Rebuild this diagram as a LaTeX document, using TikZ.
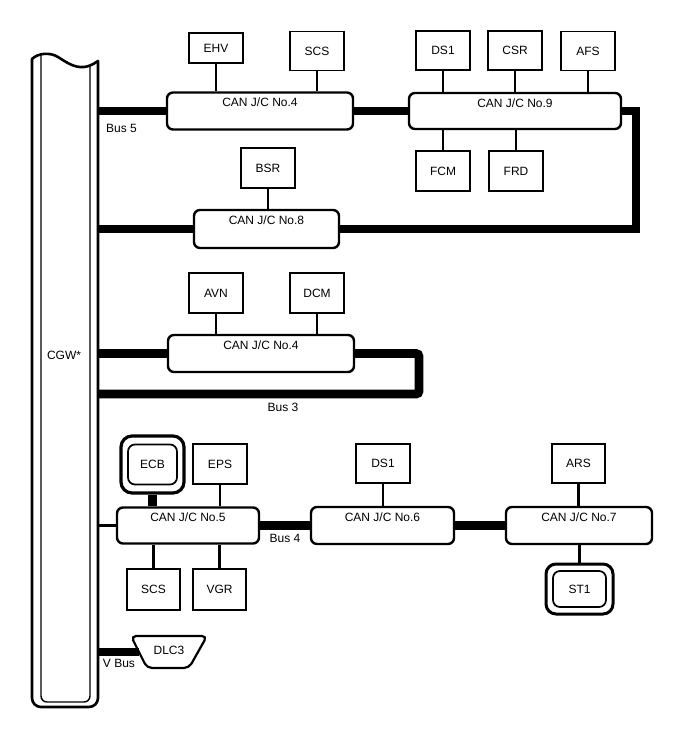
\documentclass[tikz,border=0pt]{standalone}
\usepackage{fontspec}
\setmainfont{Liberation Sans}
\begin{document}
\begin{tikzpicture}[x=1pt,y=-1pt,
  every node/.style={font=\fontsize{12}{14}\selectfont, inner sep=0pt},
  ecu/.style={draw, line width=1.9pt, fill=white},
  cjbox/.style={draw, line width=2.4pt, rounded corners=6pt, fill=white},
  cjlab/.style={anchor=north, yshift=-6.5pt},
  link/.style={line width=2.2pt},
  bus/.style={line width=8.8pt},
  ecuouter/.style={draw, line width=3.2pt, rounded corners=11pt},
  ecuinner/.style={draw, line width=1.7pt, rounded corners=7pt},
  buslab/.style={}
  ]
\useasboundingbox (0,0) rectangle (688,755);

% ---------- CGW ----------
\draw[line width=2.6pt, line cap=round] (32,59) .. controls (38,53) and (50,52) .. (58,57)
      .. controls (66,62) and (74,68) .. (84,67) .. controls (92,66) and (96,62) .. (98,61);
\draw[line width=2.6pt, rounded corners=9pt, line cap=round] (98,61) -- (98,707) -- (32,707) -- (32,59);
\begin{scope}
  \clip (32,59) .. controls (38,53) and (50,52) .. (58,57)
      .. controls (66,62) and (74,68) .. (84,67) .. controls (92,66) and (96,62) .. (98,61)
      -- (98,720) -- (32,720) -- cycle;
  \draw[line width=1.4pt, rounded corners=6pt] (41,40) -- (41,702) -- (90,702) -- (90,40);
\end{scope}
\node (cgw) at (64,355) {CGW*};
\coordinate (cgwR) at (98,0);

% ---------- Bus 5 ----------
\node[ecu, minimum width=54pt, minimum height=30pt] (ehv) at (216,48) {EHV};
\node[ecu, minimum width=54pt, minimum height=39pt] (scsa) at (317,51) {SCS};
\node[cjbox, minimum width=186pt, minimum height=37pt, label={[cjlab]north:CAN J/C No.4}] (cja) at (260,111) {};
\node[ecu, minimum width=54pt, minimum height=39pt] (ds1a) at (443,50.5) {DS1};
\node[ecu, minimum width=54pt, minimum height=39pt] (csr) at (515,50.5) {CSR};
\node[ecu, minimum width=54pt, minimum height=39pt] (afs) at (588,51) {AFS};
\node[cjbox, minimum width=212pt, minimum height=36pt, label={[cjlab]north:CAN J/C No.9}] (cjn) at (515,111) {};
\node[ecu, minimum width=54pt, minimum height=40pt] (fcm) at (443,171) {FCM};
\node[ecu, minimum width=54pt, minimum height=40pt] (frd) at (516,171) {FRD};
\node[ecu, minimum width=54pt, minimum height=40pt] (bsr) at (268,168) {BSR};
\node[cjbox, minimum width=145pt, minimum height=38pt, label={[cjlab]north:CAN J/C No.8}] (cje) at (266.5,229) {};
\coordinate (t9) at (636,0);

\draw[link] (ehv.south) -- (ehv.south |- cja.north);
\draw[link] (scsa.south) -- (scsa.south |- cja.north);
\draw[link] (ds1a.south) -- (ds1a.south |- cjn.north);
\draw[link] (csr.south) -- (csr.south |- cjn.north);
\draw[link] (afs.south) -- (afs.south |- cjn.north);
\draw[link] (fcm.north) -- (fcm.north |- cjn.south);
\draw[link] (frd.north) -- (frd.north |- cjn.south);
\draw[link] (bsr.south) -- (bsr.south |- cje.north);

\draw[bus] (cgwR |- cja.west) -- (cja.west);
\draw[bus] (cja.east) -- (cjn.west);
\draw[bus] (cjn.east) -| (t9 |- cje.east) -- (cje.east);
\draw[bus] (cgwR |- cje.west) -- (cje.west);
\node[anchor=west] (bus5) at (106,128) {Bus 5};

% ---------- Bus 3 ----------
\node[ecu, minimum width=54pt, minimum height=40pt] (avn) at (216,293) {AVN};
\node[ecu, minimum width=54pt, minimum height=40pt] (dcm) at (317,293) {DCM};
\node[cjbox, minimum width=186pt, minimum height=37pt, label={[cjlab]north:CAN J/C No.4}] (cjb) at (261,353.5) {};
\coordinate (l3) at (419,394);
\draw[link] (avn.south) -- (avn.south |- cjb.north);
\draw[link] (dcm.south) -- (dcm.south |- cjb.north);
\draw[bus] (cgwR |- cjb.west) -- (cjb.west);
\draw[bus, rounded corners=3pt] (cjb.east) -| (l3) -- (cgwR |- l3);
\node (bus3) at (283,407) {Bus 3};

% ---------- Bus 4 ----------
\node[ecuouter, minimum width=63pt, minimum height=57pt] (ecb) at (152.5,464.5) {};
\node[ecuinner, minimum width=49pt, minimum height=40pt] (ecbin) at (ecb.center) {ECB};
\node[ecu, minimum width=54pt, minimum height=40pt] (eps) at (220,464) {EPS};
\node[cjbox, minimum width=142pt, minimum height=36pt, label={[cjlab]north:CAN J/C No.5}] (cjv) at (188,525.5) {};
\node[ecu, minimum width=53pt, minimum height=41pt] (scsb) at (153.5,589.5) {SCS};
\node[ecu, minimum width=53pt, minimum height=41pt] (vgr) at (219.5,589.5) {VGR};
\node[ecu, minimum width=54pt, minimum height=39pt] (ds1b) at (383,463.5) {DS1};
\node[cjbox, minimum width=143pt, minimum height=37pt, label={[cjlab]north:CAN J/C No.6}] (cjvi) at (382.5,525.5) {};
\node[ecu, minimum width=53pt, minimum height=39pt] (ars) at (578.5,463.5) {ARS};
\node[cjbox, minimum width=146pt, minimum height=37pt, label={[cjlab]north:CAN J/C No.7}] (cjvii) at (579,525.5) {};
\node[ecuouter, line width=3pt, rounded corners=10pt, minimum width=67pt, minimum height=50pt] (st1) at (579.5,589) {};
\node[ecuinner, minimum width=53pt, minimum height=36pt] (st1in) at (st1.center) {ST1};

\draw[bus] (ecb.south) -- (ecb.south |- cjv.north);
\draw[link] (eps.south) -- (eps.south |- cjv.north);
\draw[link] (scsb.north) -- (scsb.north |- cjv.south);
\draw[link] (vgr.north) -- (vgr.north |- cjv.south);
\draw[link] (ds1b.south) -- (ds1b.south |- cjvi.north);
\draw[link] (ars.south) -- (ars.south |- cjvii.north);
\draw[link] (st1.north) -- (st1.north |- cjvii.south);
\draw[link] (cgwR |- cjv.west) -- (cjv.west);
\draw[bus] (cjv.east) -- (cjvi.west);
\draw[bus] (cjvi.east) -- (cjvii.west);
\node (bus4) at (285,538) {Bus 4};

% ---------- V Bus ----------
\node (dlc) at (169,650) {DLC3};
\draw[line width=2.2pt, rounded corners=5pt] (131,636) -- (207,636) -- (189,668) -- (147,668) -- cycle;
\coordinate (dlcL) at (139,652);
\draw[bus] (cgwR |- dlcL) -- (dlcL);
\node (vbus) at (119,663) {V Bus};
\end{tikzpicture}
\end{document}
